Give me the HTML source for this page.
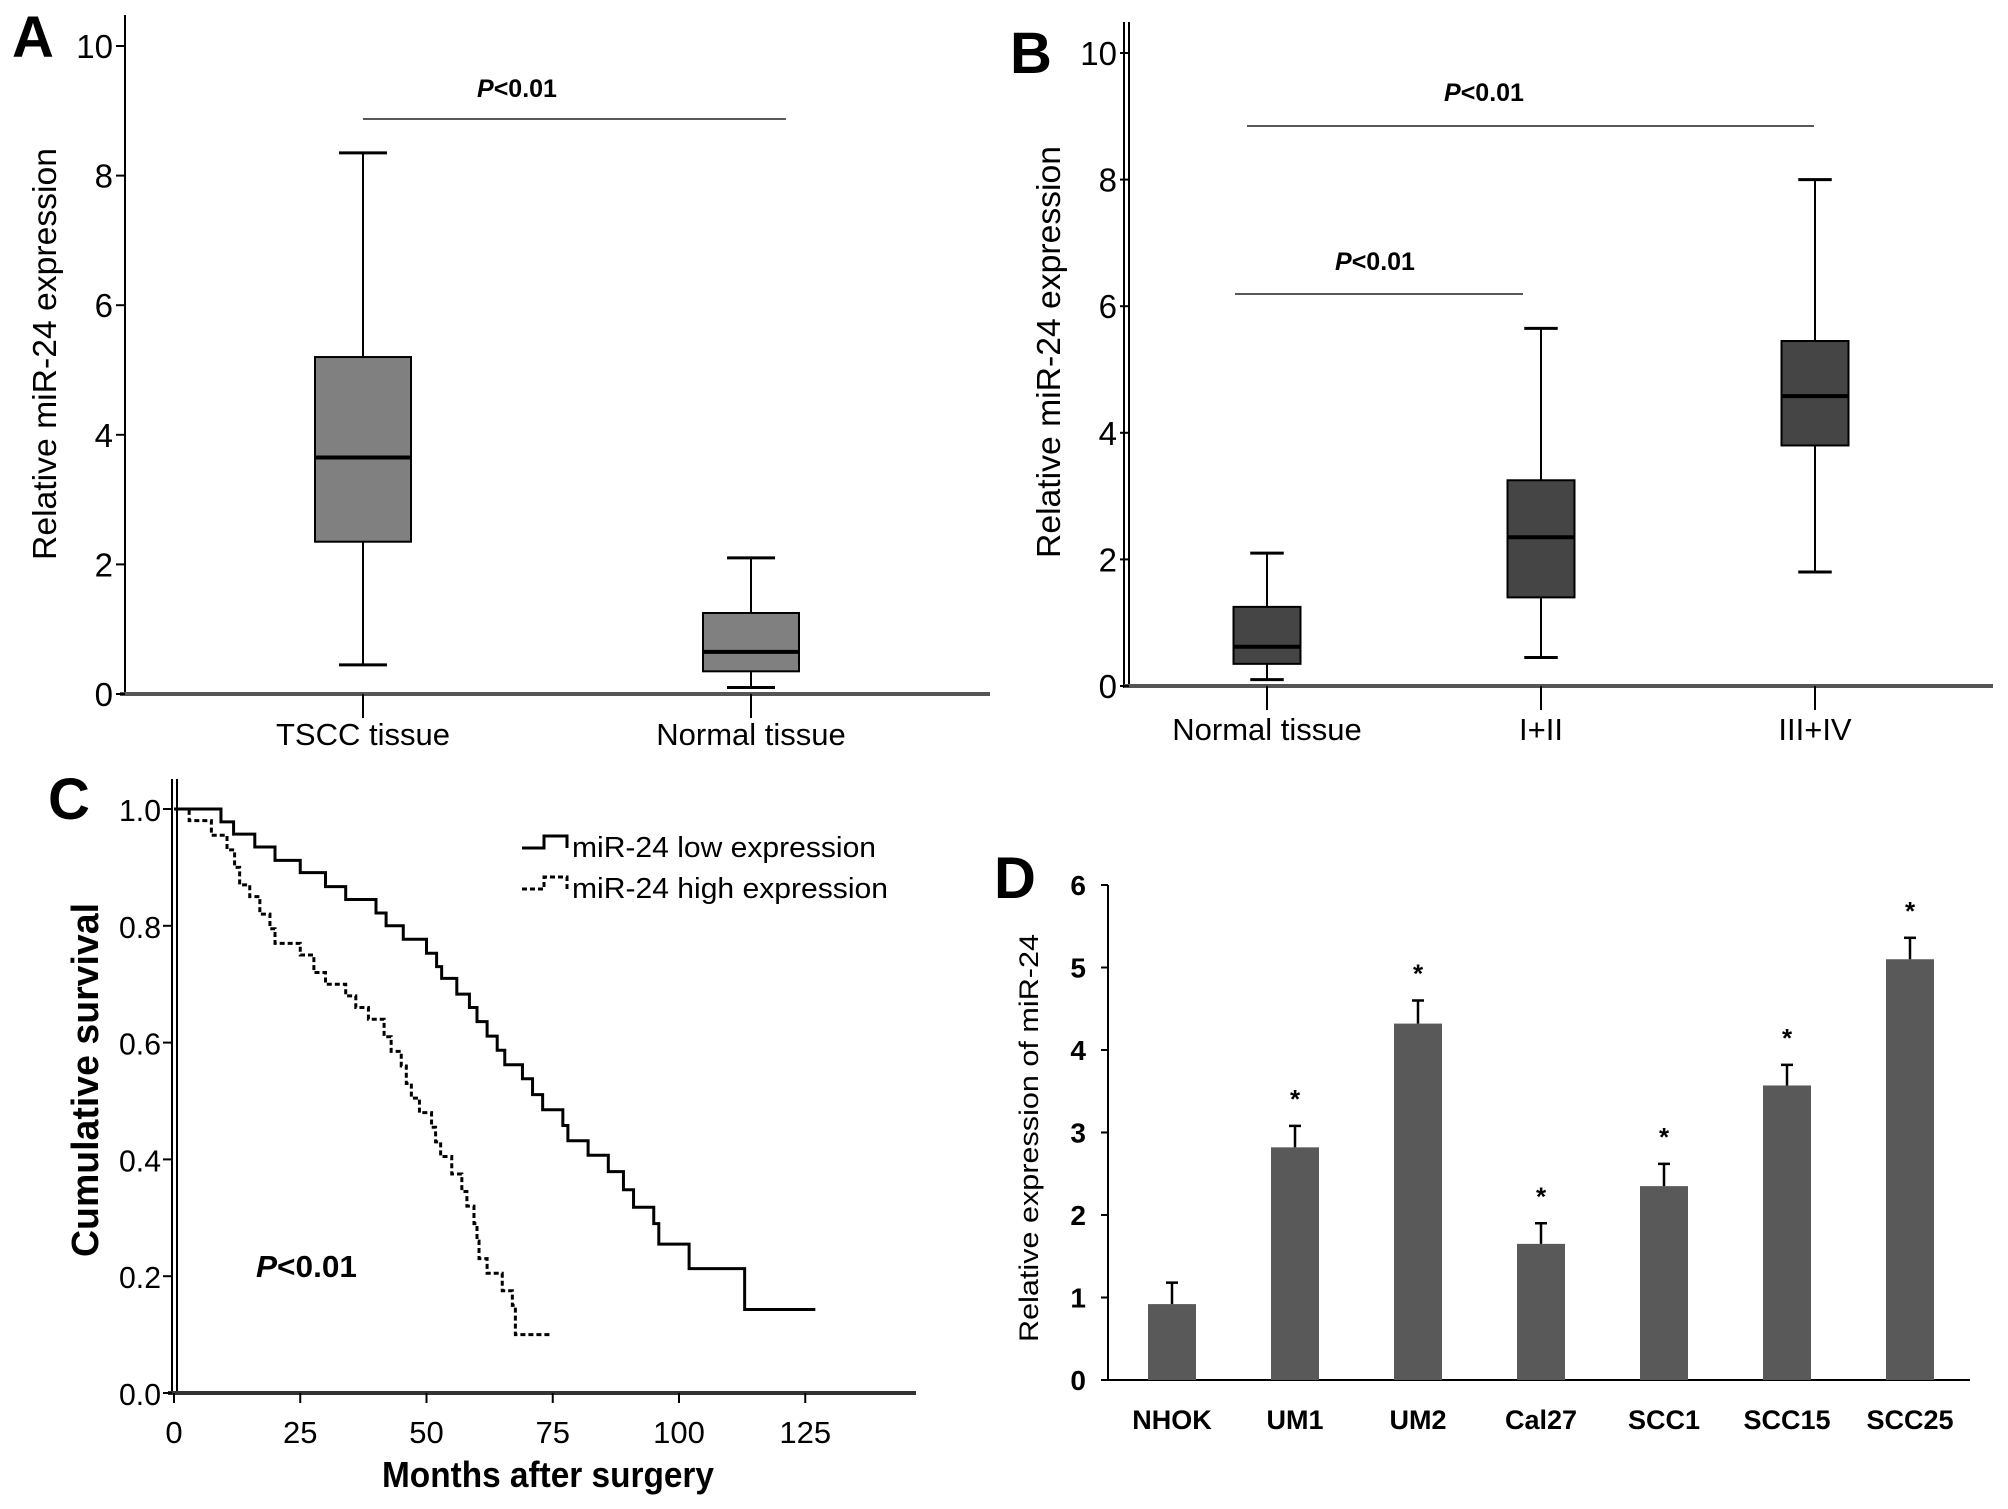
<!DOCTYPE html>
<html><head><meta charset="utf-8"><style>
html,body{margin:0;padding:0;background:#fff;}
svg{display:block;font-family:"Liberation Sans",Arial,sans-serif;}
</style></head><body>
<svg id="fig" width="2008" height="1509" viewBox="0 0 2008 1509" xmlns="http://www.w3.org/2000/svg">
<rect width="2008" height="1509" fill="#fff"/>
<text x="12" y="57" font-size="58" font-weight="bold">A</text>
<text x="1010" y="73" font-size="58" font-weight="bold">B</text>
<text x="48" y="819" font-size="58" font-weight="bold">C</text>
<text x="994" y="898" font-size="58" font-weight="bold">D</text>
</svg>
<script>
// ---- Panel A data
const aCats=["TSCC tissue","Normal tissue"];
const aMin=[0.45,0.1],aQ1=[2.35,0.35],aMed=[3.65,0.65],aQ3=[5.2,1.25],aMax=[8.35,2.1];
// ---- Panel B data
const bCats=["Normal tissue","I+II","III+IV"];
const bMin=[0.1,0.45,1.8],bQ1=[0.35,1.4,3.8],bMed=[0.62,2.35,4.58],bQ3=[1.25,3.25,5.45],bMax=[2.1,5.65,8.0];
const boxTicks=[0,2,4,6,8,10];
// ---- Panel C data
const lowT=[0,9.3,11.8,16,20,25,30,34,40,42,45.4,50,52,53,56,58.5,60,62,64,65.5,69,71,73,77,78,82,86,89,91,95,96,102,113,127];
const lowS=[1,0.978,0.957,0.935,0.912,0.891,0.867,0.845,0.822,0.8,0.777,0.753,0.73,0.71,0.683,0.66,0.636,0.611,0.587,0.562,0.538,0.511,0.485,0.458,0.432,0.407,0.379,0.348,0.318,0.29,0.255,0.213,0.143,0.143];
const highT=[0,3,7.4,10.5,12,13,15,17,19,20,25,27.7,30,34,36,38.5,41.6,43,45,46,47,48.6,51,51.8,52.8,55,57,58,59.4,60,60.4,62,65,67,67.6,74.6];
const highS=[1,0.98,0.955,0.93,0.9,0.87,0.85,0.82,0.795,0.77,0.75,0.72,0.7,0.68,0.66,0.64,0.61,0.585,0.56,0.53,0.505,0.48,0.455,0.43,0.405,0.375,0.345,0.32,0.29,0.26,0.23,0.205,0.175,0.15,0.1,0.1];
const cXTicks=[0,25,50,75,100,125];
const cYTicks=["0.0","0.2","0.4","0.6","0.8","1.0"];
// ---- Panel D data
const dCats=["NHOK","UM1","UM2","Cal27","SCC1","SCC15","SCC25"];
const dVals=[0.92,2.82,4.32,1.65,2.35,3.57,5.1];
const dErr=[0.26,0.26,0.28,0.25,0.27,0.25,0.26];
const dStar=[false,true,true,true,true,true,true];
const dTicks=[0,1,2,3,4,5,6];
</script>
<script>
const svg=document.getElementById('fig');
const NS='http://www.w3.org/2000/svg';
function mk(tag,attrs,txt){const e=document.createElementNS(NS,tag);for(const k in attrs)e.setAttribute(k,attrs[k]);if(txt!==undefined)e.textContent=txt;svg.appendChild(e);return e;}

function boxPanel(o){
  const y=v=>o.y0-(o.y0-o.y10)*v/10;
  let e=mk('line',{x1:o.ax,y1:o.top,x2:o.ax,y2:o.y0+2,stroke:'#000','stroke-width':2});
  
  if(o.dbl){e=mk('line',{x1:o.ax-5,y1:o.top,x2:o.ax-5,y2:o.y0+2,stroke:'#000','stroke-width':2});}
  e=mk('line',{x1:o.ax-5,y1:o.y0,x2:o.xend,y2:o.y0,stroke:'#555','stroke-width':4});
  
  boxTicks.forEach(t=>{
    let l=mk('line',{x1:o.ax-9,y1:y(t),x2:o.ax,y2:y(t),stroke:'#000','stroke-width':2});
    
    let tx=mk('text',{x:o.ax-12,y:y(t)+12,'font-size':33,'text-anchor':'end'},String(t));
    
  });
  let tt=mk('text',{x:0,y:0,'font-size':33,'text-anchor':'middle',transform:`translate(${o.tx},${o.ty}) rotate(-90)`,textLength:412,lengthAdjust:'spacingAndGlyphs'},'Relative miR-24 expression');
  
  o.cats.forEach((c,i)=>{
    const cx=o.cx[i],w=o.bw;
    let l=mk('line',{x1:cx,y1:o.y0,x2:cx,y2:o.y0+24,stroke:'#000','stroke-width':2});
    
    let lb=mk('text',{x:cx,y:o.labY,'font-size':31,'text-anchor':'middle'},c);
    
    let wl=mk('line',{x1:cx,y1:y(o.mx[i]),x2:cx,y2:y(o.mn[i]),stroke:'#000','stroke-width':2});
    
    [o.mx[i],o.mn[i]].forEach(v=>{let c2=mk('line',{x1:cx-w/4,y1:y(v),x2:cx+w/4,y2:y(v),stroke:'#000','stroke-width':3});});
    let r=mk('rect',{x:cx-w/2,y:y(o.q3[i]),width:w,height:y(o.q1[i])-y(o.q3[i]),fill:o.fill,stroke:'#000','stroke-width':2});
    
    let m=mk('line',{x1:cx-w/2,y1:y(o.md[i]),x2:cx+w/2,y2:y(o.md[i]),stroke:'#000','stroke-width':4});
    
  });
  o.sig.forEach(s=>{
    let l=mk('line',{x1:s[0],y1:s[2],x2:s[1],y2:s[2],stroke:'#222','stroke-width':1.5});
    
    let t=mk('text',{x:s[3],y:s[4],'font-size':25,'font-weight':'bold','text-anchor':'middle'});
    
    t.innerHTML='<tspan font-style="italic">P</tspan>&lt;0.01';
  });
}
boxPanel({p:'a',ax:125,top:15,y0:694,y10:46,xend:990,cats:aCats,cx:[363,751],bw:96,mn:aMin,q1:aQ1,md:aMed,q3:aQ3,mx:aMax,fill:'#808080',labY:745,tx:56,ty:354,dbl:false,
  sig:[[363,786,119,517,97]]});
boxPanel({p:'b',ax:1129,top:22,y0:686,y10:53,xend:1993,cats:bCats,cx:[1267,1541,1815],bw:67,mn:bMin,q1:bQ1,md:bMed,q3:bQ3,mx:bMax,fill:'#454545',labY:740,tx:1060,ty:352,dbl:true,
  sig:[[1247,1814,126,1484,101],[1235,1523,294,1375,270]]});

// ===== Panel C =====
(function(){
  const X=m=>174+m*5.05, Y=s=>1393-s*584;
  let e=mk('line',{x1:172,y1:779,x2:172,y2:1395,stroke:'#000','stroke-width':2});
  e=mk('line',{x1:177,y1:779,x2:177,y2:1395,stroke:'#000','stroke-width':2});
  e=mk('line',{x1:168,y1:1393,x2:916,y2:1393,stroke:'#333','stroke-width':4});
  cYTicks.forEach(t=>{const v=parseFloat(t);
    let l=mk('line',{x1:163,y1:Y(v),x2:172,y2:Y(v),stroke:'#000','stroke-width':2});
    let tx=mk('text',{x:161,y:Y(v)+12,'font-size':31,'text-anchor':'end',textLength:42,lengthAdjust:'spacingAndGlyphs'},t);});
  cXTicks.forEach(t=>{
    let l=mk('line',{x1:X(t),y1:1393,x2:X(t),y2:1403,stroke:'#000','stroke-width':2});
    let tx=mk('text',{x:X(t),y:1443,'font-size':31,'text-anchor':'middle'},String(t));});
  let t1=mk('text',{x:548,y:1487,'font-size':36,'font-weight':'bold','text-anchor':'middle',textLength:332,lengthAdjust:'spacingAndGlyphs'},'Months after surgery');
  let t2=mk('text',{x:0,y:0,'font-size':38,'font-weight':'bold','text-anchor':'middle',transform:'translate(98,1080) rotate(-90)',textLength:354,lengthAdjust:'spacingAndGlyphs'},'Cumulative survival');
  function step(T,S){let d=`M${X(T[0])},${Y(S[0])}`;for(let i=1;i<T.length;i++){d+=` H${X(T[i])} V${Y(S[i])}`;}return d;}
  let p=mk('path',{d:step(lowT,lowS),fill:'none',stroke:'#000','stroke-width':3});
  p=mk('path',{d:step(highT,highS),fill:'none',stroke:'#000','stroke-width':3,'stroke-dasharray':'5,3'});
  let l=mk('path',{d:'M522,848 H544 V836 H567 V848',fill:'none',stroke:'#000','stroke-width':3});
  l=mk('path',{d:'M522,889 H544 V877 H567 V889',fill:'none',stroke:'#000','stroke-width':3,'stroke-dasharray':'5,3'});
  let g=mk('text',{x:572,y:857,'font-size':29,textLength:304,lengthAdjust:'spacingAndGlyphs'},'miR-24 low expression');
  g=mk('text',{x:572,y:898,'font-size':29,textLength:316,lengthAdjust:'spacingAndGlyphs'},'miR-24 high expression');
  let pv=mk('text',{x:256,y:1277,'font-size':31,'font-weight':'bold',textLength:101,lengthAdjust:'spacingAndGlyphs'});
  pv.innerHTML='<tspan font-style="italic">P</tspan>&lt;0.01';
})();

// ===== Panel D =====
(function(){
  const Y=v=>1380-v*82.5, X=i=>1172+i*123;
  let e=mk('line',{x1:1108,y1:885,x2:1108,y2:1380,stroke:'#000','stroke-width':2});
  e=mk('line',{x1:1108,y1:1380,x2:1970,y2:1380,stroke:'#000','stroke-width':2});
  dTicks.forEach(t=>{
    let l=mk('line',{x1:1101,y1:Y(t),x2:1108,y2:Y(t),stroke:'#000','stroke-width':2});
    let tx=mk('text',{x:1086,y:Y(t)+10,'font-size':28,'font-weight':'bold','text-anchor':'end'},String(t));});
  let tt=mk('text',{x:0,y:0,'font-size':27,'text-anchor':'middle',transform:'translate(1038,1138) rotate(-90)',textLength:408,lengthAdjust:'spacingAndGlyphs'},'Relative expression of miR-24');
  dCats.forEach((c,i)=>{
    const cx=X(i);
    let r=mk('rect',{x:cx-24,y:Y(dVals[i]),width:48,height:Y(0)-Y(dVals[i]),fill:'#595959'});
    let l=mk('line',{x1:cx,y1:Y(dVals[i]),x2:cx,y2:Y(dVals[i]+dErr[i]),stroke:'#000','stroke-width':2.5});
    l=mk('line',{x1:cx-6,y1:Y(dVals[i]+dErr[i]),x2:cx+6,y2:Y(dVals[i]+dErr[i]),stroke:'#000','stroke-width':2.5});
    if(dStar[i]){let s=mk('text',{x:cx,y:Y(dVals[i]+dErr[i])-18,'font-size':26,'font-weight':'bold','text-anchor':'middle'},'*');}
    let lb=mk('text',{x:cx,y:1429,'font-size':27,'font-weight':'bold','text-anchor':'middle'},c);
  });
})();
</script>
</body></html>
